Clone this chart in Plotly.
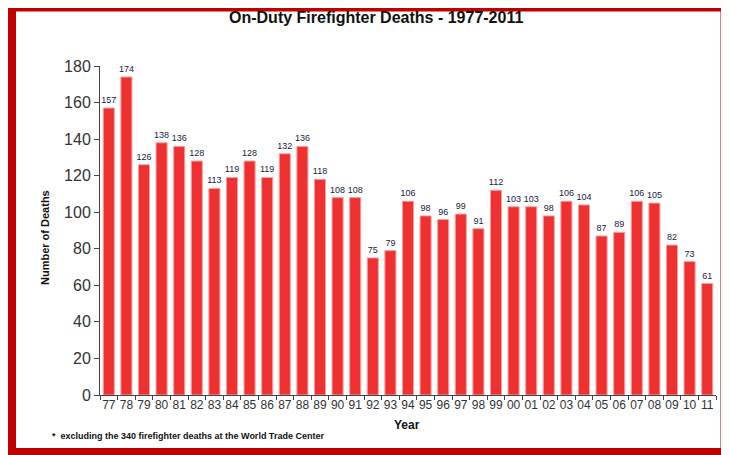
import plotly.graph_objects as go

years = ["77","78","79","80","81","82","83","84","85","86","87","88","89","90","91","92","93","94",
         "95","96","97","98","99","00","01","02","03","04","05","06","07","08","09","10","11"]
deaths = [157,174,126,138,136,128,113,119,128,119,132,136,118,108,108,75,79,106,
          98,96,99,91,112,103,103,98,106,104,87,89,106,105,82,73,61]
y_ticks = [0,20,40,60,80,100,120,140,160,180]

# page body has an 8px margin; compensate so the picture lines up with the window
OFF = 8
W, H = 729 - OFF, 455 - OFF
L, R, T, B = 100 - OFF, 13, 66 - OFF, 68 - OFF
pw, ph = W - L - R, H - T - B

def px(x):
    return (x - OFF - L) / pw

def py(y):
    return (H - B - (y - OFF)) / ph

fig = go.Figure(go.Bar(
    x=years, y=deaths,
    marker=dict(color="#EE3030", line=dict(color="#F7A0A0", width=1)),
    text=[str(v) for v in deaths], textposition="outside",
    textfont=dict(size=9, color="#1a1a40", family="Liberation Sans, Arial"),
    constraintext="none",
    cliponaxis=False,
))

fig.update_layout(
    width=W, height=H,
    margin=dict(l=L, r=R, t=T, b=B, autoexpand=False),
    plot_bgcolor="white", paper_bgcolor="white",
    bargap=0.37,
    showlegend=False,
    font=dict(family="Liberation Sans, Arial", color="#222"),
    xaxis=dict(type="category", showline=True, linecolor="#444", linewidth=1,
               ticks="outside", tickson="boundaries", ticklen=4, tickcolor="#444",
               tickangle=0, automargin=False, ticklabelstandoff=-1,
               tickfont=dict(size=12, color="#333"), showgrid=False),
    yaxis=dict(range=[0, 180], tickvals=y_ticks, showline=True, linecolor="#444", linewidth=1,
               ticks="outside", ticklen=5, tickcolor="#444", showgrid=False, zeroline=False,
               automargin=False,
               tickfont=dict(size=16, color="#333")),
    shapes=[dict(type="rect", xref="paper", yref="paper",
                 x0=px(12), x1=px(724.5), y0=py(452), y1=py(7.5),
                 line=dict(color="#C00000", width=8), fillcolor="rgba(0,0,0,0)", layer="above")],
    annotations=[
        dict(text="<b>On-Duty Firefighter Deaths - 1977-2011</b>", xref="paper", yref="paper",
             x=px(376), y=py(18), showarrow=False, font=dict(size=16, color="#111"),
             xanchor="center", yanchor="middle"),
        dict(text="<b>Number of Deaths</b>", xref="paper", yref="paper",
             x=px(45), y=py(238), showarrow=False, textangle=-90, font=dict(size=11, color="#111"),
             xanchor="center", yanchor="middle"),
        dict(text="<b>Year</b>", xref="paper", yref="paper",
             x=px(407), y=py(425), showarrow=False, font=dict(size=12, color="#111"),
             xanchor="center", yanchor="middle"),
        dict(text="<b>*  excluding the 340 firefighter deaths at the World Trade Center</b>",
             xref="paper", yref="paper", x=px(50), y=py(436), showarrow=False,
             font=dict(size=9, color="#111"), xanchor="left", yanchor="middle"),
    ],
)

fig.write_html("out.html")
